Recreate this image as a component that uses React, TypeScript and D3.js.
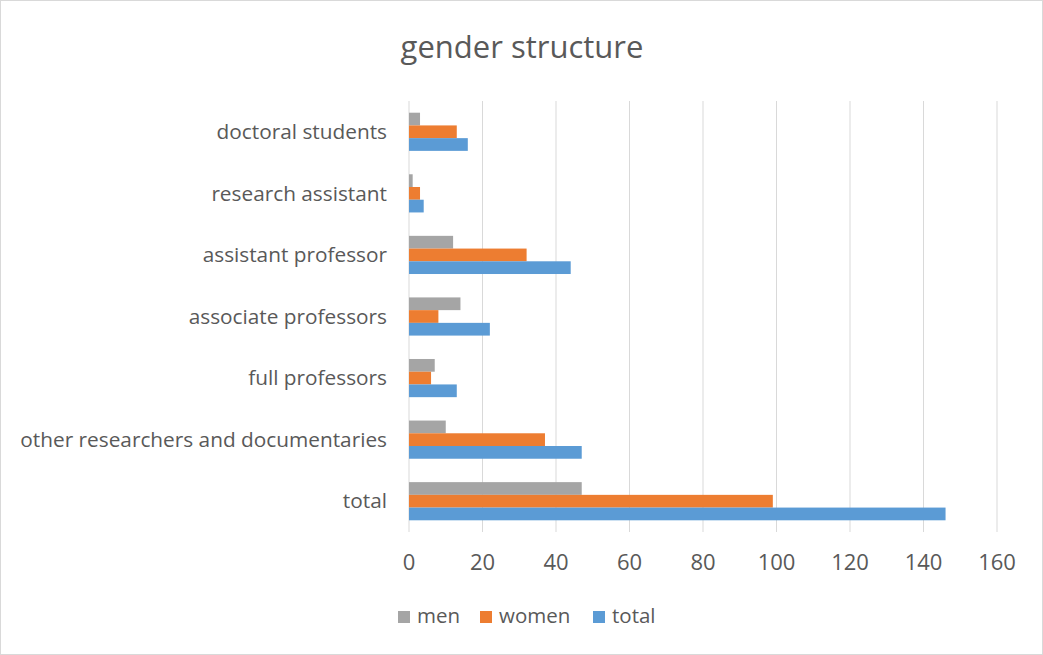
import { useEffect, useRef } from "react";
import * as d3 from "d3";

const categories = [
  "doctoral students",
  "research assistant",
  "assistant professor",
  "associate professors",
  "full professors",
  "other researchers and documentaries",
  "total",
];
const men = [3, 1, 12, 14, 7, 10, 47];
const women = [13, 3, 32, 8, 6, 37, 99];
const totals = [16, 4, 44, 22, 13, 47, 146];
const seriesNames = ["men", "women", "total"];
const seriesColors = ["#A5A5A5", "#ED7D31", "#5B9BD5"];
const xTicks = [0, 20, 40, 60, 80, 100, 120, 140, 160];

const W = 1043;
const H = 655;
const FONT = "'Open Sans', sans-serif";

export default function App() {
  const ref = useRef<SVGSVGElement>(null);

  useEffect(() => {
    document.body.style.margin = "0";
    if (!ref.current) return;
    const svg = d3.select(ref.current);
    svg.selectAll("*").remove();

    // background + border
    svg.append("rect")
      .attr("x", 0.5).attr("y", 0.5)
      .attr("width", W - 1).attr("height", H - 1)
      .attr("fill", "#fff")
      .attr("stroke", "#D9D9D9");

    // title
    svg.append("text")
      .attr("x", 522).attr("y", 58)
      .attr("text-anchor", "middle")
      .style("font-family", FONT)
      .style("font-size", "31px")
      .attr("fill", "#595959")
      .text("gender structure");

    const left = 409, right = 997, top = 101, bottom = 532;

    const x = d3.scaleLinear().domain([0, 160]).range([left, right]);
    const y = d3.scaleBand().domain(categories).range([top, bottom]).paddingInner(0.38).paddingOuter(0.19);
    const inner = d3.scaleBand().domain(seriesNames).range([0, y.bandwidth()]);

    // gridlines
    svg.append("g")
      .selectAll("line")
      .data(xTicks)
      .join("line")
      .attr("x1", (d) => x(d)).attr("x2", (d) => x(d))
      .attr("y1", top).attr("y2", bottom)
      .attr("stroke", "#D9D9D9")
      .attr("stroke-width", 1);

    // x tick labels
    svg.append("g")
      .selectAll("text")
      .data(xTicks)
      .join("text")
      .attr("x", (d) => x(d))
      .attr("y", 570)
      .attr("text-anchor", "middle")
      .style("font-family", FONT)
      .style("font-size", "22px")
      .attr("fill", "#595959")
      .text((d) => d);

    // category labels
    svg.append("g")
      .selectAll("text")
      .data(categories)
      .join("text")
      .attr("x", 387)
      .attr("y", (d) => (y(d) as number) + y.bandwidth() / 2)
      .attr("dy", "0.35em")
      .attr("text-anchor", "end")
      .style("font-family", FONT)
      .style("font-size", "20.8px")
      .attr("fill", "#595959")
      .text((d) => d);

    // bars
    const series = [men, women, totals];
    series.forEach((vals, si) => {
      svg.append("g")
        .selectAll("rect")
        .data(vals)
        .join("rect")
        .attr("x", x(0))
        .attr("y", (_, i) => (y(categories[i]) as number) + (inner(seriesNames[si]) as number))
        .attr("width", (d) => x(d) - x(0))
        .attr("height", inner.bandwidth())
        .attr("fill", seriesColors[si]);
    });

    // legend
    const legendX = [398, 480, 593];
    const lg = svg.append("g");
    seriesNames.forEach((name, i) => {
      lg.append("rect")
        .attr("x", legendX[i]).attr("y", 611)
        .attr("width", 12).attr("height", 12)
        .attr("fill", seriesColors[i]);
      lg.append("text")
        .attr("x", legendX[i] + 19).attr("y", 623)
        .style("font-family", FONT)
        .style("font-size", "20.5px")
        .attr("fill", "#595959")
        .text(name);
    });
  }, []);

  return <svg ref={ref} width={W} height={H} style={{ display: "block" }}></svg>;
}
